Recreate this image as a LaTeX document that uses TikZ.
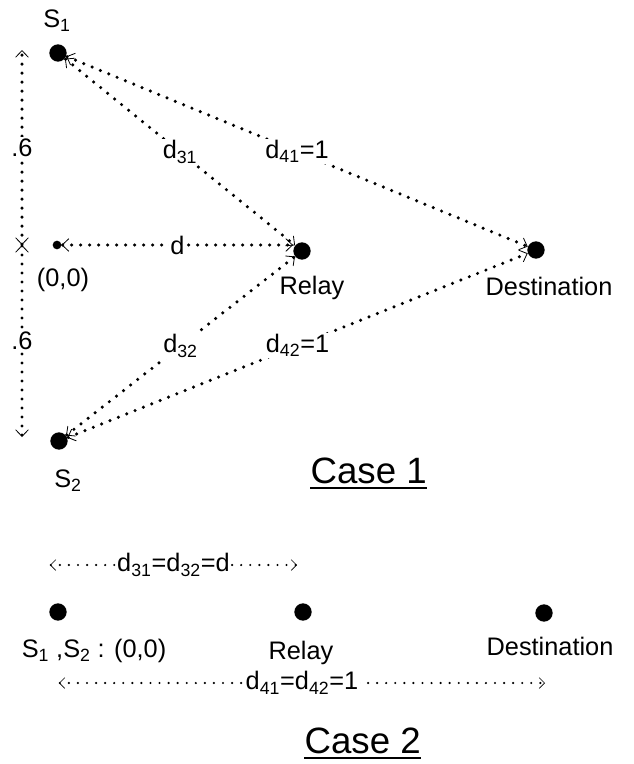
\documentclass[tikz,border=0pt]{standalone}
\usepackage{fontspec}
\setmainfont{Liberation Sans}
\usetikzlibrary{arrows.meta}

\begin{document}
\begin{tikzpicture}[x=0.75pt,y=-0.75pt,
  every node/.style={font=\fontsize{19}{23}\selectfont},
  bigdot/.style={circle,fill=black,inner sep=0pt,minimum size=13pt},
  smalldot/.style={circle,fill=black,inner sep=0pt,minimum size=6.5pt},
  dotline/.style={line width=2.6pt,dash pattern=on 0pt off 6.75pt,line cap=round},
  fineline/.style={line width=1.8pt,dash pattern=on 0pt off 6.8pt,line cap=round},
  barbs/.style={{Straight Barb[length=5pt,width=9.5pt,line width=0.6pt]}-{Straight Barb[length=5pt,width=9.5pt,line width=0.6pt]}},
  finebarbs/.style={{Straight Barb[length=4pt,width=8pt,line width=0.5pt]}-{Straight Barb[length=4pt,width=8pt,line width=0.5pt]}},
  lbl/.style={fill=white,inner sep=1pt},
  title/.style={font=\fontsize{27.5}{33}\selectfont,inner sep=0pt},
  uline/.style={line width=1.5pt},
]
\useasboundingbox (0,0) rectangle (634,764);

% ---------- Case 1: two sources, relay and destination ----------
\node[bigdot] (s1) at (58,53) {};
\node[bigdot] (s2) at (59,441) {};
\node[bigdot] (relay) at (302,251) {};
\node[bigdot] (dest) at (536,250) {};
\node[smalldot] (orig) at (57,245) {};

\node[anchor=base] (s1lbl) at (57,27) {S\textsubscript{1}};
\node[anchor=base] (s2lbl) at (68,487) {S\textsubscript{2}};
\node[anchor=base] (origlbl) at (63,286) {(0,0)};
\node[anchor=base] (relaylbl) at (312,294) {Relay};
\node[anchor=base] (destlbl) at (549,295) {Destination};

% vertical offsets of the sources
\coordinate (vt) at (22,50);
\coordinate (vm) at (22,245);
\coordinate (vb) at (22,437);
\draw[dotline,barbs] (vm) -- node[lbl] (h1) {.6} (vt);
\draw[dotline,barbs] (vm) -- node[lbl] (h2) {.6} (vb);

% distances
\draw[dotline,barbs] (orig) -- node[lbl] (dl) {d} (orig -| relay.west);
\draw[dotline,barbs] (s1) -- node[lbl] (d31) {d\textsubscript{31}} (relay);
\draw[dotline,barbs] (s2) -- node[lbl] (d32) {d\textsubscript{32}} (relay);
\draw[dotline,barbs] (s1) -- node[lbl] (d41) {d\textsubscript{41}=1} (dest);
\draw[dotline,barbs] (s2) -- node[lbl] (d42) {d\textsubscript{42}=1} (dest);

\node[title,anchor=base east] (case1) at (427,483) {Case 1};
\draw[uline] ([yshift=-3.5pt]case1.base west) -- ([yshift=-3.5pt]case1.base east);

% ---------- Case 2: co-located sources ----------
\node[bigdot] (c2s) at (58,612) {};
\node[bigdot] (c2r) at (303,612) {};
\node[bigdot] (c2d) at (544,613) {};

\node[anchor=base] (c2slbl) at (94,657) {S\textsubscript{1} ,S\textsubscript{2} : (0,0)};
\node[anchor=base] (c2rlbl) at (301,659) {Relay};
\node[anchor=base] (c2dlbl) at (550,655) {Destination};

\coordinate (ta) at (50,565);
\coordinate (tb) at (297,565);
\draw[fineline,finebarbs] (ta) -- node[lbl] (dtop) {d\textsubscript{31}=d\textsubscript{32}=d} (tb);

\coordinate (ba) at (59,683);
\coordinate (bb) at (545,683);
\draw[fineline,finebarbs] (ba) -- node[lbl] (dbot) {d\textsubscript{41}=d\textsubscript{42}=1} (bb);

\node[title,anchor=base east] (case2) at (421,753) {Case 2};
\draw[uline] ([yshift=-3.5pt]case2.base west) -- ([yshift=-3.5pt]case2.base east);
\end{tikzpicture}
\end{document}
